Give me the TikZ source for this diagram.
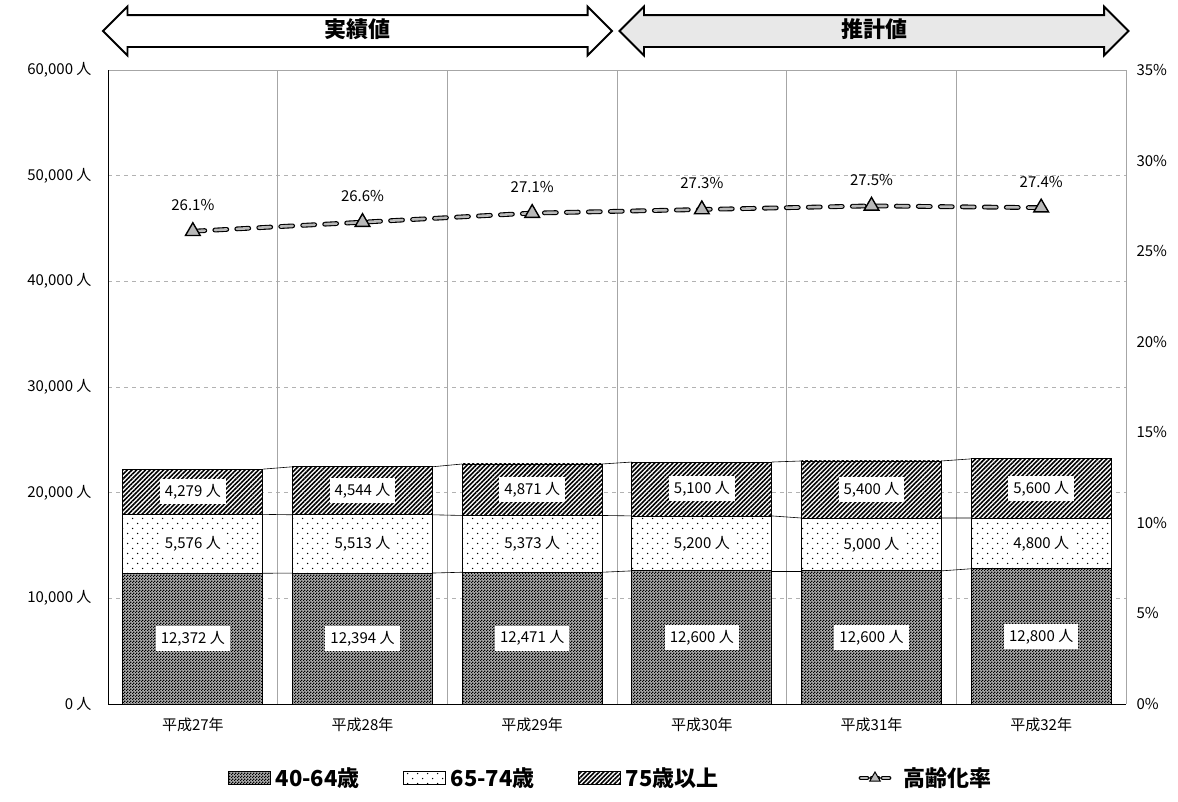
\documentclass[tikz,border=0pt]{standalone}
\usepackage{fontspec}
\setmainfont{Noto Sans CJK JP}
\usetikzlibrary{patterns,patterns.meta,shapes.geometric,shapes.arrows,positioning}

\pgfdeclarepatternformonly{checker}{\pgfpointorigin}{\pgfpoint{3pt}{3pt}}{\pgfpoint{3pt}{3pt}}{%
  \pgfpathrectangle{\pgfpointorigin}{\pgfpoint{1.5pt}{1.5pt}}%
  \pgfpathrectangle{\pgfpoint{1.5pt}{1.5pt}}{\pgfpoint{1.5pt}{1.5pt}}%
  \pgfusepath{fill}}
\pgfdeclarepatternformonly{sparsedots}{\pgfpoint{-1pt}{-1pt}}{\pgfpoint{11pt}{11pt}}{\pgfpoint{10pt}{10pt}}{%
  \pgfpathcircle{\pgfpoint{2.5pt}{2.5pt}}{0.75pt}%
  \pgfpathcircle{\pgfpoint{7.5pt}{7.5pt}}{0.75pt}%
  \pgfusepath{fill}}

\begin{document}
\begin{tikzpicture}[x=1pt,y=-1pt,
    vgrid/.style={gray!70, line width=0.8pt},
    hgrid/.style={gray!60, line width=0.8pt, dash pattern=on 4pt off 4pt},
    bar/.style={draw=black, line width=0.8pt},
    young/.style={bar, preaction={fill=gray!65}, pattern=checker, pattern color=black},
    middle/.style={bar, preaction={fill=white}, pattern=sparsedots, pattern color=black},
    old/.style={bar, preaction={fill=white}, pattern={Lines[angle=45,distance=3.2pt,line width=1.6pt]}, pattern color=black},
    val/.style={fill=white, inner xsep=5pt, inner ysep=5pt, font=\fontsize{15}{15}\selectfont},
    axislab/.style={font=\fontsize{15}{15}\selectfont},
    rate/.style={draw=black, line width=1.1pt, double=gray!55, double distance=2.6pt, line cap=round, dash pattern=on 12pt off 10pt},
    tri/.style={regular polygon, regular polygon sides=3, minimum size=17pt, inner sep=0pt, draw=black, line width=1.4pt, fill=gray!55},
    span/.style={double arrow, draw=black, line width=1.8pt, double arrow head extend=8.5pt, minimum height=509pt,
      text height=16pt, text depth=4pt, inner ysep=5pt, inner xsep=0pt, font=\fontsize{22}{22}\selectfont\bfseries},
    key/.style={font=\fontsize{22}{22}\selectfont\bfseries, inner sep=0pt}
  ]
  \useasboundingbox (0,0) rectangle (1178,801);

  % grid and axes
  \foreach \v in {1,...,5}
    \draw[hgrid] (108,{704-\v*105.667}) -- (1126,{704-\v*105.667});
  \foreach \k in {1,...,5}
    \draw[vgrid] ({108+\k*169.667},70) -- ({108+\k*169.667},704);
  \draw[vgrid] (108,70) -- (1126,70) -- (1126,704);
  \draw[black, line width=0.9pt] (108,70) -- (108,704) -- (1126,704);

  \foreach \v in {0,...,6}
    \node[axislab, anchor=east] (ly\v) at (95,{704-\v*105.667}) {\ifnum\v=0 0\else\v0,000\fi\ 人};
  \foreach \v in {0,5,...,35}
    \node[axislab, anchor=west] (ry\v) at (1133,{704-\v*18.114}) {\v\%};

  % bars
  \foreach \i/\a/\b/\c/\r in {1/12372/5576/4279/26.1, 2/12394/5513/4544/26.6, 3/12471/5373/4871/27.1,
      4/12600/5200/5100/27.3, 5/12600/5000/5400/27.5, 6/12800/4800/5600/27.4}{
    \pgfmathsetmacro\cx{108+(\i-0.5)*169.667}
    \pgfmathsetmacro\ya{704-\a/1000*10.5667}
    \pgfmathsetmacro\yb{\ya-\b/1000*10.5667}
    \pgfmathsetmacro\yc{\yb-\c/1000*10.5667}
    \pgfmathsetmacro\yr{704-\r*18.114}
    \draw[young] (\cx-70,704) rectangle (\cx+70,\ya);
    \draw[middle] (\cx-70,\ya) rectangle (\cx+70,\yb);
    \draw[old] (\cx-70,\yb) rectangle (\cx+70,\yc);
    \node[val] (va\i) at (\cx,{(704+\ya)/2}) {\pgfmathprintnumber[assume math mode=true,1000 sep={,}]{\a}\ 人};
    \node[val] (vb\i) at (\cx,{(\ya+\yb)/2}) {\pgfmathprintnumber[assume math mode=true,1000 sep={,}]{\b}\ 人};
    \node[val] (vc\i) at (\cx,{(\yb+\yc)/2}) {\pgfmathprintnumber[assume math mode=true,1000 sep={,}]{\c}\ 人};
    \coordinate (la\i) at (\cx-70,\ya); \coordinate (ra\i) at (\cx+70,\ya);
    \coordinate (lb\i) at (\cx-70,\yb); \coordinate (rb\i) at (\cx+70,\yb);
    \coordinate (lc\i) at (\cx-70,\yc); \coordinate (rc\i) at (\cx+70,\yc);
    \coordinate (m\i) at (\cx,\yr);
    \node[axislab] (p\i) at (\cx,\yr-26) {\r\%};
    \node[axislab] (x\i) at (\cx,725) {平成\the\numexpr26+\i\relax 年};
  }

  % series lines
  \foreach \i [evaluate=\i as \j using int(\i+1)] in {1,...,5}{
    \draw[black, line width=0.6pt] (ra\i) -- (la\j);
    \draw[black, line width=0.6pt] (rb\i) -- (lb\j);
    \draw[black, line width=0.6pt] (rc\i) -- (lc\j);
  }

  % rate line
  \draw[rate] (m1) -- (m2) -- (m3) -- (m4) -- (m5) -- (m6);
  \foreach \i in {1,...,6}
    \node[tri] (t\i) at (m\i) {};

  % top arrows
  \node[span] (done) at (357.5,31) {実績値};
  \node[span, fill=gray!18] (plan) at (874,31) {推計値};

  % legend
  \node[young, minimum width=42pt, minimum height=13pt, inner sep=0pt] (k1) at (249,778) {};
  \node[key, right=5pt of k1] (k1t) {40-64歳};
  \node[middle, minimum width=42pt, minimum height=13pt, inner sep=0pt] (k2) at (424,778) {};
  \node[key, right=5pt of k2] (k2t) {65-74歳};
  \node[old, minimum width=42pt, minimum height=13pt, inner sep=0pt] (k3) at (599,778) {};
  \node[key, right=5pt of k3] (k3t) {75歳以上};
  \coordinate (k4a) at (861,778);
  \coordinate (k4b) at (889,778);
  \draw[rate, dash pattern=on 6pt off 5pt] (k4a) -- (k4b);
  \node[tri, minimum size=12pt, line width=1pt] (k4) at (875,778) {};
  \node[key, anchor=west] (k4t) at (903,778) {高齢化率};
\end{tikzpicture}
\end{document}
